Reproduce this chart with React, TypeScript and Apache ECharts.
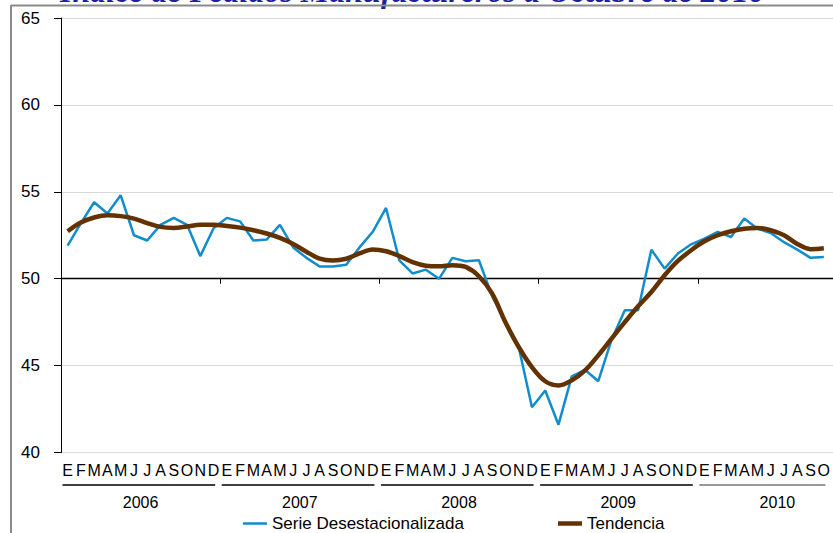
import React, { useEffect, useRef } from "react";
import * as echarts from "echarts";

const TITLE = "Índice de Pedidos Manufactureros a Octubre de 2010";
const MONTHS = ["E", "F", "M", "A", "M", "J", "J", "A", "S", "O", "N", "D"];
const YEARS = ["2006", "2007", "2008", "2009", "2010"];
const SERIES_NAMES = ["Serie Desestacionalizada", "Tendencia"];
const Y_MIN = 40;
const Y_MAX = 65;
const Y_STEP = 5;
const REF_LINE = 50;

const SERIE = [
  // 2006
  51.9, 53.2, 54.4, 53.75, 54.8, 52.5, 52.2, 53.1, 53.5, 53.1, 51.3, 52.9,
  // 2007
  53.5, 53.3, 52.2, 52.25, 53.1, 51.8, 51.2, 50.7, 50.7, 50.8, 51.8, 52.7,
  // 2008
  54.07, 51.06, 50.3, 50.52, 50.0, 51.2, 51.0, 51.06, 49.0, 47.5, 46.07, 42.6,
  // 2009
  43.57, 41.6, 44.38, 44.76, 44.1, 46.5, 48.18, 48.18, 51.67, 50.58, 51.45, 51.98,
  // 2010
  52.3, 52.69, 52.4, 53.46, 52.88, 52.63, 52.1, 51.67, 51.2, 51.25,
];

const TENDENCIA = [
  // 2006
  52.73, 53.23, 53.52, 53.65, 53.6, 53.46, 53.2, 52.98, 52.92, 53.0, 53.1, 53.1,
  // 2007
  53.03, 52.94, 52.79, 52.6, 52.35, 52.0, 51.55, 51.15, 51.05, 51.15, 51.45, 51.68,
  // 2008
  51.58, 51.3, 50.96, 50.75, 50.71, 50.78, 50.68, 50.14, 49.14, 47.5, 46.07, 44.91,
  // 2009
  44.1, 43.86, 44.15, 44.72, 45.59, 46.55, 47.5, 48.41, 49.23, 50.2, 51.02, 51.64,
  // 2010
  52.15, 52.5, 52.73, 52.88, 52.92, 52.79, 52.5, 52.0, 51.7, 51.75,
];

const CATEGORIES = YEARS.flatMap(() => MONTHS);

const FONT = "'Liberation Sans', Arial, sans-serif";
const BLUE = "#108dcc";
const BROWN = "#633200";

const VIEW_W = 833;
const VIEW_H = 533;
const GRID_LEFT = 61;
const GRID_TOP = 18;
const GRID_W = 796;
const GRID_H = 434.5;
const CANVAS_W = GRID_LEFT + GRID_W + 20;

export default function App() {
  const ref = useRef<HTMLDivElement>(null);

  useEffect(() => {
    if (!ref.current) return;
    const chart = echarts.init(ref.current, null, { renderer: "svg" });
    const refOffset = -(GRID_H * (REF_LINE - Y_MIN)) / (Y_MAX - Y_MIN);
    chart.setOption({
      animation: false,
      backgroundColor: "#ffffff",
      grid: { left: GRID_LEFT, top: GRID_TOP, width: GRID_W, height: GRID_H },
      xAxis: [
        {
          type: "category",
          data: CATEGORIES,
          position: "bottom",
          boundaryGap: true,
          axisLine: { show: false, onZero: false },
          axisTick: { show: false },
          splitLine: { show: false },
          axisLabel: {
            interval: (i: number) => i < SERIE.length,
            margin: 10,
            fontSize: 16,
            color: "#000",
            fontFamily: FONT,
          },
        },
        {
          type: "category",
          data: CATEGORIES,
          position: "bottom",
          offset: refOffset,
          boundaryGap: true,
          axisLine: { show: true, onZero: false, lineStyle: { color: "#000", width: 1.4 } },
          axisTick: {
            show: true,
            interval: (i: number) => i % 12 === 0,
            length: 5,
            lineStyle: { color: "#000", width: 1 },
          },
          axisLabel: { show: false },
          splitLine: { show: false },
        },
        {
          type: "category",
          data: YEARS,
          position: "bottom",
          boundaryGap: true,
          axisLine: { show: false, onZero: false },
          axisTick: { show: false },
          splitLine: { show: false },
          axisLabel: { margin: 42, fontSize: 16, color: "#000", fontFamily: FONT },
        },
      ],
      yAxis: {
        type: "value",
        min: Y_MIN,
        max: Y_MAX,
        interval: Y_STEP,
        axisLine: { show: true, lineStyle: { color: "#000", width: 1 } },
        axisTick: { show: true, length: 7, lineStyle: { color: "#000" } },
        axisLabel: { margin: 21, fontSize: 17, color: "#000", fontFamily: FONT },
        splitLine: { show: true, lineStyle: { color: "#d9d9d9", width: 1 } },
      },
      legend: [
        {
          data: [SERIES_NAMES[0]],
          icon: "rect",
          left: 238,
          top: 510,
          itemWidth: 24,
          itemHeight: 2.5,
          itemStyle: { color: BLUE },
          textStyle: { fontSize: 17, color: "#000", fontFamily: FONT },
        },
        {
          data: [SERIES_NAMES[1]],
          icon: "rect",
          left: 553,
          top: 510,
          itemWidth: 24,
          itemHeight: 4.5,
          itemStyle: { color: BROWN },
          textStyle: { fontSize: 17, color: "#000", fontFamily: FONT },
        },
      ],
      series: [
        {
          name: SERIES_NAMES[0],
          type: "line",
          data: SERIE,
          xAxisIndex: 0,
          symbol: "none",
          lineStyle: { color: BLUE, width: 2.5 },
          itemStyle: { color: BLUE },
          z: 3,
        },
        {
          name: SERIES_NAMES[1],
          type: "line",
          data: TENDENCIA,
          xAxisIndex: 0,
          smooth: 0.35,
          symbol: "none",
          lineStyle: { color: BROWN, width: 4.5 },
          itemStyle: { color: BROWN },
          z: 4,
        },
      ],
    });

    const px = (i: number) => chart.convertToPixel({ xAxisIndex: 0 }, i) as number;
    const band = px(1) - px(0);
    const underlines = YEARS.map((_, yi) => {
      const first = yi * 12;
      const last = Math.min(yi * 12 + 11, SERIE.length - 1);
      const partial = last < yi * 12 + 11;
      return {
        type: "line",
        shape: {
          x1: px(first) - band / 2 + 1.5,
          y1: 485,
          x2: px(last) + band / 2 - 5,
          y2: 485,
        },
        style: { stroke: partial ? "#9a9a9a" : "#000", lineWidth: partial ? 2 : 1.4 },
        silent: true,
      };
    });

    chart.setOption({
      graphic: [
        {
          type: "text",
          left: 60,
          top: -25,
          style: {
            text: TITLE,
            font: "italic bold 32px 'Liberation Serif', 'Times New Roman', serif",
            fill: "#1f1fa3",
          },
          silent: true,
        },
        {
          type: "line",
          shape: { x1: 11, y1: 5.5, x2: VIEW_W, y2: 5.5 },
          style: { stroke: "#8a8a8a", lineWidth: 2 },
          silent: true,
        },
        {
          type: "line",
          shape: { x1: 11, y1: 5, x2: 11, y2: VIEW_H },
          style: { stroke: "#8a8a8a", lineWidth: 2 },
          silent: true,
        },
        ...underlines,
      ],
    });

    return () => chart.dispose();
  }, []);

  return (
    <div
      style={{
        position: "absolute",
        left: 0,
        top: 0,
        width: VIEW_W,
        height: VIEW_H,
        overflow: "hidden",
        background: "#fff",
      }}
    >
      <div ref={ref} style={{ width: CANVAS_W, height: VIEW_H }} />
    </div>
  );
}
